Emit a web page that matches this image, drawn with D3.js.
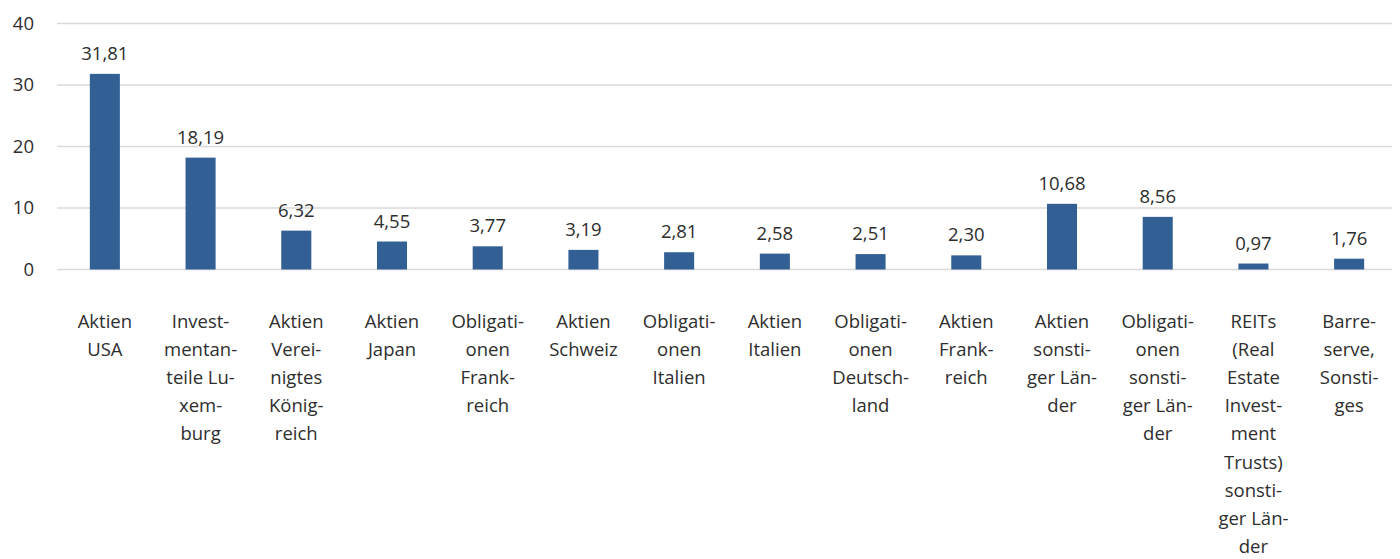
<!DOCTYPE html>
<html><head><meta charset="utf-8">
<script src="https://cdn.jsdelivr.net/npm/d3@7"></script>
<style>body{margin:0;background:#fff}text{font-family:"Open Sans",sans-serif;fill:#2e2e2e}</style>
</head><body><svg id="c" width="1400" height="559"></svg>
<script>
const categories = ["Aktien USA","Investmentanteile Luxemburg","Aktien Vereinigtes Königreich","Aktien Japan","Obligationen Frankreich","Aktien Schweiz","Obligationen Italien","Aktien Italien","Obligationen Deutschland","Aktien Frankreich","Aktien sonstiger Länder","Obligationen sonstiger Länder","REITs (Real Estate Investment Trusts) sonstiger Länder","Barreserve, Sonstiges"];
const categoryLines = [
 ["Aktien","USA"],
 ["Invest-","mentan-","teile Lu-","xem-","burg"],
 ["Aktien","Verei-","nigtes","König-","reich"],
 ["Aktien","Japan"],
 ["Obligati-","onen","Frank-","reich"],
 ["Aktien","Schweiz"],
 ["Obligati-","onen","Italien"],
 ["Aktien","Italien"],
 ["Obligati-","onen","Deutsch-","land"],
 ["Aktien","Frank-","reich"],
 ["Aktien","sonsti-","ger Län-","der"],
 ["Obligati-","onen","sonsti-","ger Län-","der"],
 ["REITs","(Real","Estate","Invest-","ment","Trusts)","sonsti-","ger Län-","der"],
 ["Barre-","serve,","Sonsti-","ges"]
];
const values = [31.81,18.19,6.32,4.55,3.77,3.19,2.81,2.58,2.51,2.30,10.68,8.56,0.97,1.76];
const yTicks = [0,10,20,30,40];

const svg = d3.select("#c");
const x = d3.scaleBand().domain(categories).range([57,1397]).paddingInner(0.686).paddingOuter(0.343);
const y = d3.scaleLinear().domain([0,40]).range([269.5,23.5]);

svg.append("g").selectAll("line").data(yTicks).join("line")
  .attr("x1",57).attr("x2",1392).attr("y1",d=>y(d)).attr("y2",d=>y(d))
  .attr("stroke","#d9d9d9").attr("stroke-width",1.5);

const ya = svg.append("g").attr("transform","translate(34,0)")
  .call(d3.axisLeft(y).tickValues(yTicks).tickSize(0).tickPadding(0));
ya.select(".domain").remove();
ya.selectAll("text").style("font-size","18.5px").attr("fill","#2e2e2e").style("font-family","'Open Sans',sans-serif");

svg.append("g").selectAll("rect").data(values).join("rect")
  .attr("x",(d,i)=>x(categories[i])).attr("width",x.bandwidth())
  .attr("y",d=>y(d)).attr("height",d=>y(0)-y(d)).attr("fill","#336094");

const fmt = d3.formatLocale({decimal:",",thousands:".",grouping:[3],currency:["","€"]}).format(".2f");
svg.append("g").selectAll("text").data(values).join("text")
  .attr("x",(d,i)=>x(categories[i])+x.bandwidth()/2).attr("y",d=>y(d)-14)
  .attr("text-anchor","middle").style("font-size","18.5px").text(d=>fmt(d));

const xa = svg.append("g");
categories.forEach((c,i)=>{
  const t = xa.append("text").attr("x",x(c)+x.bandwidth()/2).attr("y",328)
    .attr("text-anchor","middle").style("font-size","18.5px");
  categoryLines[i].forEach((l,j)=>t.append("tspan").attr("x",x(c)+x.bandwidth()/2).attr("dy",j?28.1:0).text(l));
});
</script></body></html>
